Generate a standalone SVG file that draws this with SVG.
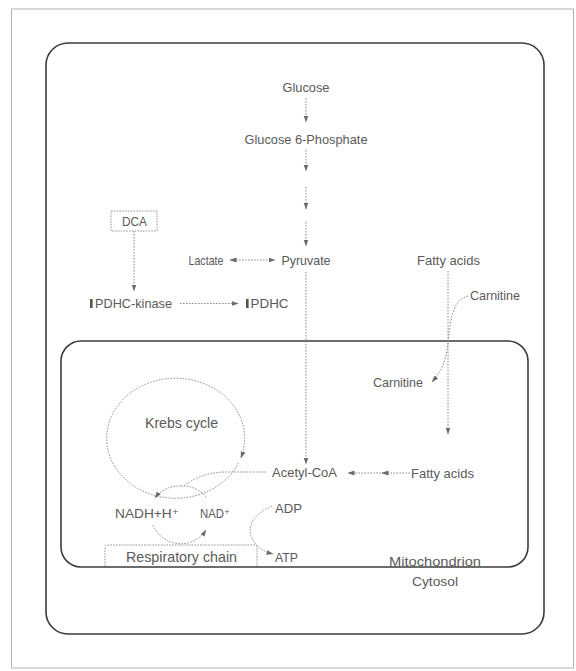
<svg xmlns="http://www.w3.org/2000/svg" width="576" height="671" viewBox="0 0 576 671">
  <style>
    .lbl { font-family: 'Liberation Sans', Arial, 'DejaVu Sans', sans-serif; font-size: 13px; fill: #5a5a5a; }
    .big { font-size: 14.5px; }
    .mid { text-anchor: middle; }
    .wall { fill: none; stroke: #3c3c3c; stroke-width: 1.6; }
    .dot { fill: none; stroke: #808080; stroke-width: 0.9; stroke-dasharray: 1.6 1.4; }
    .arr { marker-end: url(#ah); }
    .bi { marker-start: url(#ah); marker-end: url(#ah); }
  </style>
  <defs>
    <marker id="ah" viewBox="0 0 7 6" refX="6.5" refY="3" markerWidth="7" markerHeight="6" markerUnits="userSpaceOnUse" orient="auto-start-reverse">
      <path d="M0,0.6 L7,3 L0,5.4 Z" fill="#6a6a6a"/>
    </marker>
  </defs>

  <rect width="576" height="671" fill="#ffffff"/>

  <!-- page frame -->
  <rect id="frame" x="11.5" y="9" width="562" height="659" fill="none" stroke="#b4b4b4" stroke-width="1"/>

  <!-- compartments -->
  <g id="cytosol">
    <rect class="wall" x="46" y="43" width="498" height="591" rx="22" ry="22"/>
    <text class="lbl mid" x="435" y="586" textLength="46" lengthAdjust="spacingAndGlyphs">Cytosol</text>
  </g>
  <g id="mitochondrion">
    <rect class="wall" x="61" y="341" width="467" height="226" rx="20" ry="20"/>
    <text class="lbl mid" x="435" y="566" textLength="92" lengthAdjust="spacingAndGlyphs">Mitochondrion</text>
  </g>

  <!-- nodes -->
  <g id="glucose"><text class="lbl mid" x="306" y="92" textLength="47" lengthAdjust="spacingAndGlyphs">Glucose</text></g>
  <g id="g6p"><text class="lbl mid" x="306" y="144" textLength="123" lengthAdjust="spacingAndGlyphs">Glucose 6-Phosphate</text></g>
  <g id="pyruvate"><text class="lbl mid" x="306" y="265" textLength="49" lengthAdjust="spacingAndGlyphs">Pyruvate</text></g>
  <g id="lactate"><text class="lbl mid" x="206" y="265" textLength="35" lengthAdjust="spacingAndGlyphs">Lactate</text></g>
  <g id="dca">
    <rect x="111" y="211" width="46" height="20" fill="none" stroke="#8a8a8a" stroke-width="0.9" stroke-dasharray="1.6 1.2"/>
    <text class="lbl mid" x="134.5" y="225.5" textLength="25" lengthAdjust="spacingAndGlyphs">DCA</text>
  </g>
  <g id="pdhc-kinase">
    <rect x="90" y="299" width="2.6" height="9" fill="#555"/>
    <text class="lbl" x="95" y="308" textLength="77" lengthAdjust="spacingAndGlyphs">PDHC-kinase</text>
  </g>
  <g id="pdhc">
    <rect x="246" y="299" width="2.6" height="9" fill="#555"/>
    <text class="lbl" x="250.5" y="308" textLength="38" lengthAdjust="spacingAndGlyphs">PDHC</text>
  </g>
  <g id="fatty-acids-cyto"><text class="lbl" x="417" y="265" textLength="63" lengthAdjust="spacingAndGlyphs">Fatty acids</text></g>
  <g id="carnitine-cyto"><text class="lbl" x="470" y="300" textLength="50" lengthAdjust="spacingAndGlyphs">Carnitine</text></g>
  <g id="carnitine-mito"><text class="lbl" x="373" y="387" textLength="50" lengthAdjust="spacingAndGlyphs">Carnitine</text></g>
  <g id="krebs"><text class="lbl mid big" x="181.5" y="428" textLength="73" lengthAdjust="spacingAndGlyphs">Krebs cycle</text></g>
  <g id="acetyl-coa"><text class="lbl" x="272" y="477" textLength="65" lengthAdjust="spacingAndGlyphs">Acetyl-CoA</text></g>
  <g id="fatty-acids-mito"><text class="lbl" x="411" y="478" textLength="63" lengthAdjust="spacingAndGlyphs">Fatty acids</text></g>
  <g id="nadh"><text class="lbl" x="115" y="518" textLength="64" lengthAdjust="spacingAndGlyphs">NADH+H⁺</text></g>
  <g id="nad"><text class="lbl" x="200" y="518" textLength="30" lengthAdjust="spacingAndGlyphs">NAD⁺</text></g>
  <g id="adp"><text class="lbl" x="275" y="513" textLength="27" lengthAdjust="spacingAndGlyphs">ADP</text></g>
  <g id="atp"><text class="lbl" x="275" y="562" textLength="23" lengthAdjust="spacingAndGlyphs">ATP</text></g>
  <g id="respiratory-chain">
    <path d="M105,566 L105,547 Q105,545 107,545 L255,545 Q257,545 257,547 L257,566" fill="none" stroke="#8a8a8a" stroke-width="0.9" stroke-dasharray="1.6 1.2"/>
    <text class="lbl big" x="126" y="562" textLength="111" lengthAdjust="spacingAndGlyphs">Respiratory chain</text>
  </g>

  <!-- connectors -->
  <g id="connectors">
    <line class="dot arr" x1="306" y1="98" x2="306" y2="122"/>
    <line class="dot arr" x1="306" y1="150" x2="306" y2="171"/>
    <line class="dot arr" x1="306" y1="187" x2="306" y2="209"/>
    <line class="dot arr" x1="306" y1="222" x2="306" y2="246"/>
    <line class="dot bi" x1="230" y1="260" x2="275" y2="260"/>
    <line class="dot arr" x1="134" y1="231" x2="134" y2="291"/>
    <line class="dot arr" x1="180" y1="303.5" x2="238" y2="303.5"/>
    <line class="dot arr" x1="306" y1="272" x2="306" y2="464"/>
    <line class="dot arr" x1="448" y1="271" x2="448" y2="434"/>
    <path class="dot arr" d="M468,296 C452,300 450,322 448,343 C446,362 441,372 432,382"/>
    <line class="dot arr" x1="410" y1="473" x2="382" y2="473"/>
    <line class="dot arr" x1="384" y1="473" x2="348" y2="473"/>
    <!-- Krebs cycle loop -->
    <path class="dot arr" d="M238.5,463 A69,60 0 1 1 240.8,458"/>
    <path class="dot" d="M266,472 L224,472 Q200,473 184,486"/>
    <!-- NADH / NAD+ shuttle -->
    <path class="dot arr" d="M181,486 A30,30 0 0 0 155,498"/>
    <path class="dot" d="M206,497 A30,30 0 0 0 181,486"/>
    <path class="dot arr" d="M153,525 A30,30 0 0 0 206,530"/>
    <!-- ADP to ATP -->
    <path class="dot arr" d="M272,506 Q246,518 251,536 Q256,550 273,554"/>
  </g>
</svg>
